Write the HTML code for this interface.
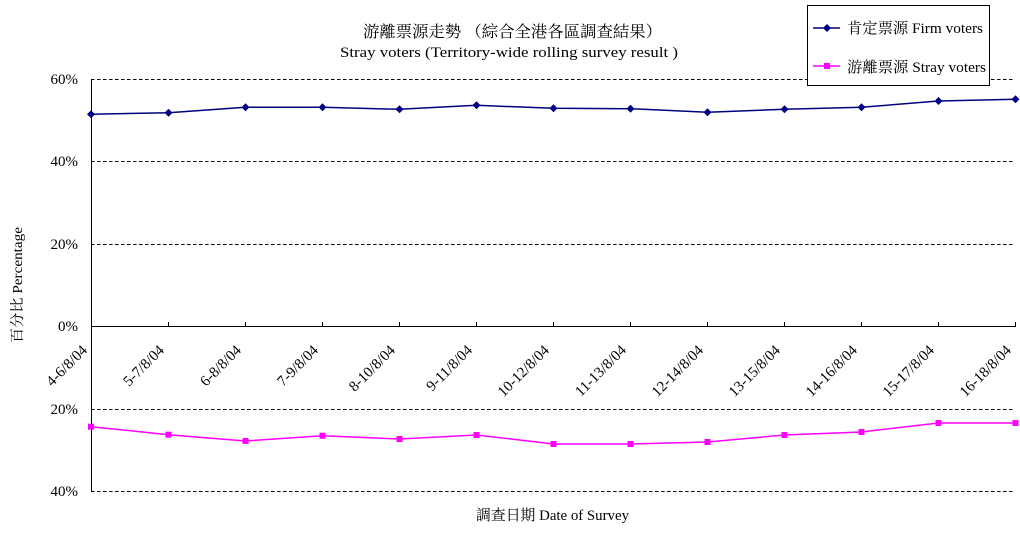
<!DOCTYPE html>
<html><head><meta charset="utf-8"><style>
html,body{margin:0;padding:0;background:#fff;}
svg{display:block;}
text{font-family:"Liberation Serif","Noto Serif CJK SC",serif;fill:#000;}
</style></head><body>
<svg width="1020" height="533" viewBox="0 0 1020 533" xmlns="http://www.w3.org/2000/svg">
<rect width="1020" height="533" fill="#fff"/>
<!-- titles -->
<text x="512.5" y="37" font-size="16" text-anchor="middle" textLength="299" lengthAdjust="spacingAndGlyphs">游離票源走勢 （綜合全港各區調查結果）</text>
<text x="509" y="57" font-size="15" text-anchor="middle" textLength="338" lengthAdjust="spacingAndGlyphs">Stray voters (Territory-wide rolling survey result )</text>
<!-- gridlines -->
<g stroke="#000" stroke-width="1" stroke-dasharray="3.5 2.5">
<line x1="91" y1="79.5" x2="1015" y2="79.5"/>
<line x1="91" y1="161.5" x2="1015" y2="161.5"/>
<line x1="91" y1="244.5" x2="1015" y2="244.5"/>
<line x1="91" y1="409.5" x2="1015" y2="409.5"/>
<line x1="91" y1="491.5" x2="1015" y2="491.5"/>
</g>
<!-- axes -->
<line x1="91.5" y1="79" x2="91.5" y2="492" stroke="#000" stroke-width="1"/>
<line x1="91" y1="326.5" x2="1016" y2="326.5" stroke="#000" stroke-width="1"/>
<g stroke="#000" stroke-width="1">
<line x1="168.5" y1="322" x2="168.5" y2="326"/>
<line x1="245.5" y1="322" x2="245.5" y2="326"/>
<line x1="322.5" y1="322" x2="322.5" y2="326"/>
<line x1="399.5" y1="322" x2="399.5" y2="326"/>
<line x1="476.5" y1="322" x2="476.5" y2="326"/>
<line x1="553.5" y1="322" x2="553.5" y2="326"/>
<line x1="630.5" y1="322" x2="630.5" y2="326"/>
<line x1="707.5" y1="322" x2="707.5" y2="326"/>
<line x1="784.5" y1="322" x2="784.5" y2="326"/>
<line x1="861.5" y1="322" x2="861.5" y2="326"/>
<line x1="938.5" y1="322" x2="938.5" y2="326"/>
<line x1="1015.5" y1="322" x2="1015.5" y2="326"/>
</g>
<!-- y labels -->
<g font-size="15" text-anchor="end">
<text x="78" y="84">60%</text>
<text x="78" y="166">40%</text>
<text x="78" y="249">20%</text>
<text x="78" y="331">0%</text>
<text x="78" y="414">20%</text>
<text x="78" y="496">40%</text>
</g>
<!-- y axis title -->
<text transform="translate(22,285) rotate(-90)" font-size="14" text-anchor="middle" textLength="116" lengthAdjust="spacingAndGlyphs">百分比 Percentage</text>
<!-- x labels -->
<g font-size="15" text-anchor="end">
<text transform="translate(88,351) rotate(-45)">4-6/8/04</text>
<text transform="translate(165,351) rotate(-45)">5-7/8/04</text>
<text transform="translate(242,351) rotate(-45)">6-8/8/04</text>
<text transform="translate(319,351) rotate(-45)">7-9/8/04</text>
<text transform="translate(396,351) rotate(-45)">8-10/8/04</text>
<text transform="translate(473,351) rotate(-45)">9-11/8/04</text>
<text transform="translate(550,351) rotate(-45)">10-12/8/04</text>
<text transform="translate(627,351) rotate(-45)">11-13/8/04</text>
<text transform="translate(704,351) rotate(-45)">12-14/8/04</text>
<text transform="translate(781,351) rotate(-45)">13-15/8/04</text>
<text transform="translate(858,351) rotate(-45)">14-16/8/04</text>
<text transform="translate(935,351) rotate(-45)">15-17/8/04</text>
<text transform="translate(1012,351) rotate(-45)">16-18/8/04</text>
</g>
<!-- x axis title -->
<text x="552.5" y="520" font-size="15" text-anchor="middle" textLength="153" lengthAdjust="spacingAndGlyphs">調查日期 Date of Survey</text>
<!-- firm voters -->
<polyline fill="none" stroke="#000080" stroke-width="1.5" points="91,114.3 168.5,112.7 245.5,107.3 322.5,107.3 399.5,109.3 476.5,105.3 553.5,108.3 630.5,108.7 707.5,112.3 784.5,109.3 861.5,107.3 938.5,101 1015.5,99.3"/>
<g fill="#000080">
<path d="M91,110.3 L95,114.3 L91,118.3 L87,114.3Z"/>
<path d="M168.5,108.7 L172.5,112.7 L168.5,116.7 L164.5,112.7Z"/>
<path d="M245.5,103.3 L249.5,107.3 L245.5,111.3 L241.5,107.3Z"/>
<path d="M322.5,103.3 L326.5,107.3 L322.5,111.3 L318.5,107.3Z"/>
<path d="M399.5,105.3 L403.5,109.3 L399.5,113.3 L395.5,109.3Z"/>
<path d="M476.5,101.3 L480.5,105.3 L476.5,109.3 L472.5,105.3Z"/>
<path d="M553.5,104.3 L557.5,108.3 L553.5,112.3 L549.5,108.3Z"/>
<path d="M630.5,104.7 L634.5,108.7 L630.5,112.7 L626.5,108.7Z"/>
<path d="M707.5,108.3 L711.5,112.3 L707.5,116.3 L703.5,112.3Z"/>
<path d="M784.5,105.3 L788.5,109.3 L784.5,113.3 L780.5,109.3Z"/>
<path d="M861.5,103.3 L865.5,107.3 L861.5,111.3 L857.5,107.3Z"/>
<path d="M938.5,97 L942.5,101 L938.5,105 L934.5,101Z"/>
<path d="M1015.5,95.3 L1019.5,99.3 L1015.5,103.3 L1011.5,99.3Z"/>
</g>
<!-- stray voters -->
<polyline fill="none" stroke="#FF00FF" stroke-width="1.5" points="91,426.7 168.5,434.7 245.5,441 322.5,435.7 399.5,439 476.5,435 553.5,444 630.5,444 707.5,442 784.5,435 861.5,432 938.5,423 1015.5,423"/>
<g fill="#FF00FF">
<rect x="88" y="423.7" width="6" height="6"/>
<rect x="165.5" y="431.7" width="6" height="6"/>
<rect x="242.5" y="438" width="6" height="6"/>
<rect x="319.5" y="432.7" width="6" height="6"/>
<rect x="396.5" y="436" width="6" height="6"/>
<rect x="473.5" y="432" width="6" height="6"/>
<rect x="550.5" y="441" width="6" height="6"/>
<rect x="627.5" y="441" width="6" height="6"/>
<rect x="704.5" y="439" width="6" height="6"/>
<rect x="781.5" y="432" width="6" height="6"/>
<rect x="858.5" y="429" width="6" height="6"/>
<rect x="935.5" y="420" width="6" height="6"/>
<rect x="1012.5" y="420" width="6" height="6"/>
</g>
<!-- legend -->
<rect x="807.5" y="5.5" width="182" height="80" fill="#fff" stroke="#000" stroke-width="1"/>
<line x1="813" y1="28" x2="840" y2="28" stroke="#000080" stroke-width="1.5"/>
<path d="M827,24 L831,28 L827,32 L823,28Z" fill="#000080"/>
<text x="847" y="33" font-size="15" textLength="136" lengthAdjust="spacingAndGlyphs">肯定票源 Firm voters</text>
<line x1="813" y1="66" x2="840" y2="66" stroke="#FF00FF" stroke-width="1.5"/>
<rect x="824" y="63" width="6" height="6" fill="#FF00FF"/>
<text x="847" y="72" font-size="15" textLength="139" lengthAdjust="spacingAndGlyphs">游離票源 Stray voters</text>
</svg>
</body></html>
